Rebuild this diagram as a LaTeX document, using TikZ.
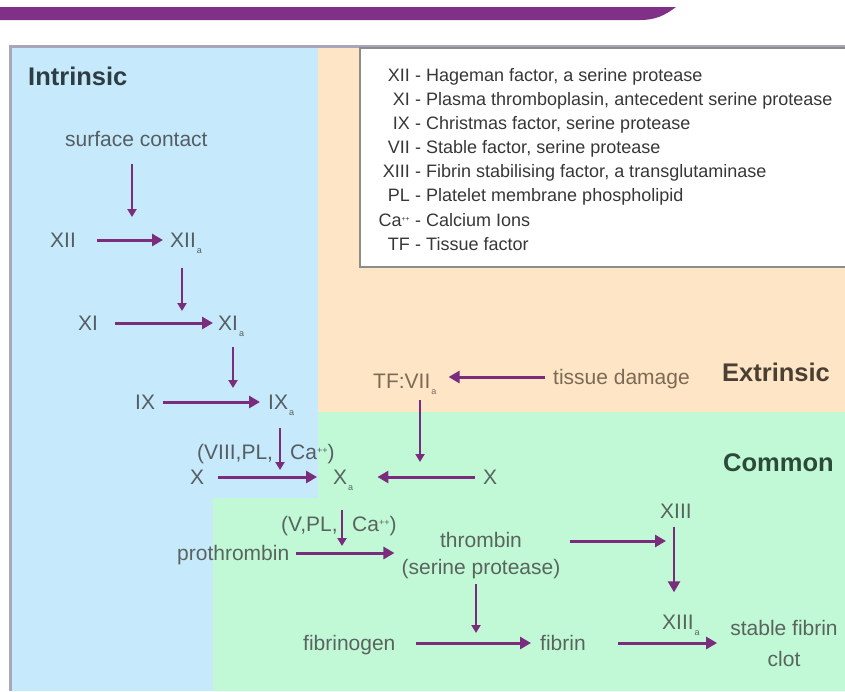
\documentclass[tikz,border=0pt]{standalone}
\usepackage{fontspec}
\setmainfont{Liberation Sans}
\usetikzlibrary{arrows.meta}
\definecolor{barpurple}{RGB}{128,48,135}
\definecolor{arrowpurple}{RGB}{122,45,124}
\definecolor{panelblue}{RGB}{198,233,251}
\definecolor{panelorange}{RGB}{253,229,198}
\definecolor{panelgreen}{RGB}{193,249,214}
\definecolor{framegray}{RGB}{168,166,184}
\definecolor{boxgray}{RGB}{140,140,140}
\definecolor{labgray}{RGB}{85,94,98}
\definecolor{labbrown}{RGB}{125,106,85}
\definecolor{labgreen}{RGB}{90,100,95}
\definecolor{hdblue}{RGB}{46,61,68}
\definecolor{hdbrown}{RGB}{74,63,51}
\definecolor{hdgreen}{RGB}{44,74,58}
\definecolor{legtext}{RGB}{55,55,55}
\newcommand\subA{\kern1pt\raisebox{-5.5pt}{\fontsize{9}{9}\selectfont a}}
\newcommand\supPP{\raisebox{6.5pt}{\fontsize{9}{9}\selectfont ++}}
\newcommand\supLeg{\raisebox{5.5pt}{\fontsize{7}{7}\selectfont ++}}
\tikzset{
  lab/.style={inner sep=0pt, text height=15pt, text depth=0pt,
    font=\fontsize{21}{25}\selectfont, text=labgray, anchor=west},
  lab2/.style={inner sep=0pt, align=center, anchor=center, text=labgreen},
  hdr/.style={inner sep=0pt, text height=18pt, text depth=0pt,
    font=\bfseries\fontsize{25.5}{30}\selectfont, anchor=west},
  leg/.style={inner sep=0pt, text height=13pt, text depth=0pt,
    font=\fontsize{18}{21}\selectfont, text=legtext},
  harrow/.style={draw=arrowpurple, line width=3pt, -{Triangle[length=11pt,width=12pt]}},
  varrow/.style={draw=arrowpurple, line width=2pt, -{Triangle[length=8pt,width=9pt]}}
}
\begin{document}
\begin{tikzpicture}[x=1pt,y=-1pt]
\useasboundingbox (0,0) rectangle (845,691);
% background panels
\fill[white] (0,0) rectangle (845,691);
\fill[barpurple] (0,7) -- (676,7) .. controls (664,16) and (655,20) .. (640,20) -- (0,20) -- cycle;
\fill[panelblue] (12,48) -- (318,48) -- (318,498) -- (213,498) -- (213,691) -- (12,691) -- cycle;
\fill[panelorange] (318,48) rectangle (845,412);
\fill[panelgreen] (318,412) -- (845,412) -- (845,691) -- (213,691) -- (213,498) -- (318,498) -- cycle;
\draw[framegray, line width=3pt] (10.5,691) -- (10.5,46.5) -- (845,46.5);
% legend box
\draw[boxgray, line width=1.5pt, fill=white] (360,48) rectangle (852,267);
\foreach \ab/\de/\yy in {XII/{Hageman factor, a serine protease}/75,
  XI/{Plasma thromboplasin, antecedent serine protease}/99,
  IX/{Christmas factor, serine protease}/123,
  VII/{Stable factor, serine protease}/147,
  XIII/{Fibrin stabilising factor, a transglutaminase}/171,
  PL/{Platelet membrane phospholipid}/195,
  Ca\supLeg/{Calcium Ions}/220,
  TF/{Tissue factor}/244}{
  \node[leg, anchor=east] (lg\yy a) at (410,\yy) {\ab};
  \node[leg, anchor=west] (lg\yy b) at (415,\yy) {- \de};
}
% headers
\node[hdr, text=hdblue] (intr) at (28,76) {Intrinsic};
\node[hdr, text=hdbrown] (extr) at (722,372) {Extrinsic};
\node[hdr, text=hdgreen] (comm) at (723,462) {Common};
% intrinsic labels
\node[lab] (sc) at (65,139) {surface contact};
\node[lab] (XII) at (50,240) {XII};
\node[lab] (XIIa) at (170,240) {XII\subA};
\node[lab] (XI) at (78,323) {XI};
\node[lab] (XIa) at (218,323) {XI\subA};
\node[lab] (IX) at (135,402) {IX};
\node[lab] (IXa) at (268,402) {IX\subA};
\node[lab] (viii) at (197,452) {(VIII,PL,};
\node[lab] (ca1) at (290,452) {Ca\supPP)};
\node[lab] (Xl) at (190,477) {X};
\node[lab, text=labgreen] (Xa) at (333,477) {X\subA};
\node[lab, text=labgreen] (Xr) at (483,477) {X};
% extrinsic labels
\node[lab, text=labbrown] (TF) at (373,381) {TF:VII\subA};
\node[lab, text=labbrown] (td) at (553,377) {tissue damage};
% common labels
\node[lab, text=labgreen] (vpl) at (281,524) {(V,PL,};
\node[lab, text=labgreen] (ca2) at (352,524) {Ca\supPP)};
\node[lab, text=labgreen] (proth) at (177,553) {prothrombin};
\node[lab2, font=\fontsize{21}{27}\selectfont] (thr) at (481,556) {thrombin\\(serine protease)};
\node[lab, text=labgreen] (XIII) at (660,511) {XIII};
\node[lab, text=labgreen] (XIIIa) at (662,622) {XIII\subA};
\node[lab, text=labgreen] (fbg) at (303,643) {fibrinogen};
\node[lab, text=labgreen] (fib) at (540,643) {fibrin};
\node[lab2, font=\fontsize{21}{31}\selectfont] (clot) at (784,643) {stable fibrin\\clot};
% landing points
\coordinate (c1) at (132,240);
\coordinate (c2) at (182,323);
\coordinate (c3) at (233,402);
\coordinate (c4) at (280,477);
\coordinate (c5) at (420,477);
\coordinate (c6) at (342,553);
\coordinate (c7) at (476,643);
\coordinate (cT) at (674,541);
% horizontal arrows
\draw[harrow, shorten <=21pt, shorten >=7pt] (XII.east) -- (XIIa.west);
\draw[harrow, shorten <=17pt, shorten >=5pt] (XI.east) -- (XIa.west);
\draw[harrow, shorten <=8pt, shorten >=8pt] (IX.east) -- (IXa.west);
\draw[harrow, shorten <=14pt, shorten >=16pt] (Xl.east) -- (Xa.west);
\draw[harrow, shorten <=8pt, shorten >=24pt] (Xr.west) -- (Xa.east);
\draw[harrow, shorten <=8pt, shorten >=12pt] (td.west) -- (td.west -| TF.east);
\draw[harrow, shorten <=7pt, shorten >=7pt] (proth.east) -- (proth.east -| thr.west);
\draw[harrow, shorten <=9pt, shorten >=8pt] (thr.east |- cT) -- (cT);
\draw[harrow, shorten <=20pt, shorten >=9pt] (fbg.east) -- (fib.west);
\draw[harrow, shorten <=32pt, shorten >=13pt] (fib.east) -- (fib.east -| clot.west);
% vertical arrows
\draw[varrow, shorten <=17.5pt, shorten >=23pt] (sc.south -| c1) -- (c1);
\draw[varrow, shorten <=20pt, shorten >=12pt] (XIIa.south -| c2) -- (c2);
\draw[varrow, shorten <=16.5pt, shorten >=14pt] (XIa.south -| c3) -- (c3);
\draw[varrow, shorten <=18.5pt, shorten >=7pt] (IXa.south -| c4) -- (c4);
\draw[varrow, shorten <=11.5pt, shorten >=15pt] (TF.south -| c5) -- (c5);
\draw[varrow, shorten <=25.5pt, shorten >=7pt] (Xa.south -| c6) -- (c6);
\draw[varrow, shorten <=5pt, shorten >=10pt] (thr.south -| c7) -- (c7);
\draw[harrow, line width=2.5pt, shorten <=8pt, shorten >=22pt] (XIII.south -| cT) -- (XIIIa.north -| cT);
\end{tikzpicture}
\end{document}
